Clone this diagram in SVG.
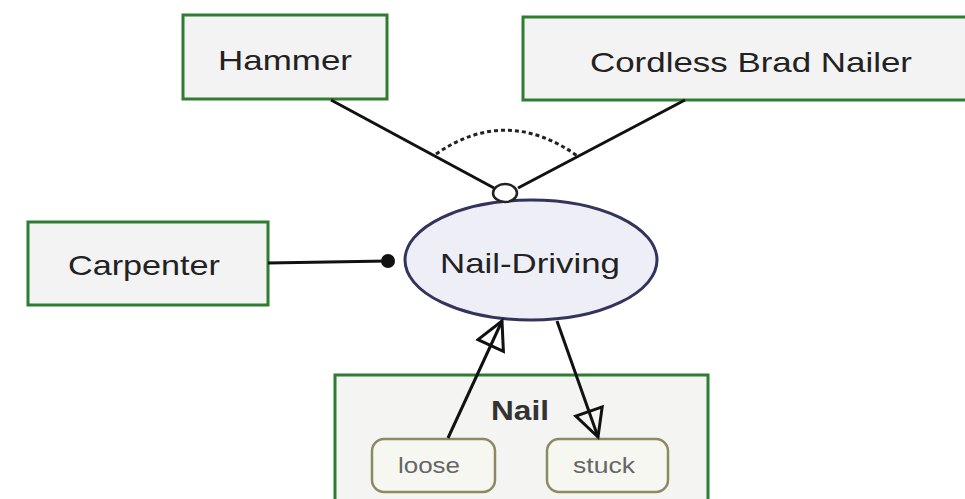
<svg xmlns="http://www.w3.org/2000/svg" width="965" height="499" viewBox="0 0 965 499">
  <style>
    .box { fill: #f3f3f3; stroke: #2f7d32; stroke-width: 3; }
    .lbl { font-family: "Liberation Sans", Arial, sans-serif; font-size: 28px; fill: #222; text-anchor: middle; }
    .state { fill: #f7f7f1; stroke: #8c8a62; stroke-width: 2.5; }
    .slbl { font-family: "Liberation Sans", Arial, sans-serif; font-size: 22px; fill: #666; text-anchor: middle; }
    .conn { stroke: #111; stroke-width: 3; fill: none; }
  </style>
  <defs>
    <marker id="open" markerUnits="userSpaceOnUse" markerWidth="36" markerHeight="36" refX="30" refY="16" orient="auto">
      <path d="M3,2 L30,16 L3,30 Z" fill="none" stroke="#111" stroke-width="3" stroke-linejoin="miter"/>
    </marker>
  </defs>
  <rect width="965" height="499" fill="#ffffff"/>

  <g id="hammer">
    <rect class="box" x="183" y="15" width="204" height="84"/>
    <text class="lbl" x="285" y="70" textLength="134" lengthAdjust="spacingAndGlyphs">Hammer</text>
  </g>
  <g id="cordless-brad-nailer">
    <rect class="box" x="523" y="17" width="460" height="83"/>
    <text class="lbl" x="751" y="72" textLength="322" lengthAdjust="spacingAndGlyphs">Cordless Brad Nailer</text>
  </g>
  <g id="carpenter">
    <rect class="box" x="28" y="222" width="240" height="83"/>
    <text class="lbl" x="144" y="275" textLength="152" lengthAdjust="spacingAndGlyphs">Carpenter</text>
  </g>
  <g id="nail-driving">
    <ellipse cx="531" cy="260" rx="126" ry="60" fill="#eeeef7" stroke="#33335c" stroke-width="3"/>
    <text class="lbl" x="530" y="273" textLength="180" lengthAdjust="spacingAndGlyphs">Nail-Driving</text>
  </g>
  <g id="nail">
    <rect x="335" y="375" width="373" height="140" fill="#f4f4f2" stroke="#2f7d32" stroke-width="3"/>
    <text x="520" y="420" font-family="Liberation Sans, Arial, sans-serif" font-size="28" font-weight="bold" fill="#333" text-anchor="middle" textLength="58" lengthAdjust="spacingAndGlyphs">Nail</text>
    <g id="loose">
      <rect class="state" x="372" y="439" width="123" height="53" rx="12"/>
      <text class="slbl" x="429" y="473" textLength="62" lengthAdjust="spacingAndGlyphs">loose</text>
    </g>
    <g id="stuck">
      <rect class="state" x="547" y="439" width="121" height="53" rx="12"/>
      <text class="slbl" x="604" y="473" textLength="62" lengthAdjust="spacingAndGlyphs">stuck</text>
    </g>
  </g>

  <g id="connectors">
    <line class="conn" x1="331" y1="100" x2="494" y2="188"/>
    <line class="conn" x1="685" y1="100" x2="518" y2="188"/>
    <path d="M436,154 Q507,105 579,157" fill="none" stroke="#222" stroke-width="3" stroke-dasharray="4 3"/>
    <ellipse cx="505" cy="193" rx="12" ry="9" fill="#ffffff" stroke="#222" stroke-width="2.5"/>
    <line class="conn" x1="268" y1="263" x2="388" y2="261"/>
    <circle cx="388" cy="261" r="7" fill="#111"/>
    <line class="conn" x1="448" y1="438" x2="502" y2="321" marker-end="url(#open)"/>
    <line class="conn" x1="557" y1="321" x2="598" y2="437" marker-end="url(#open)"/>
  </g>
</svg>
